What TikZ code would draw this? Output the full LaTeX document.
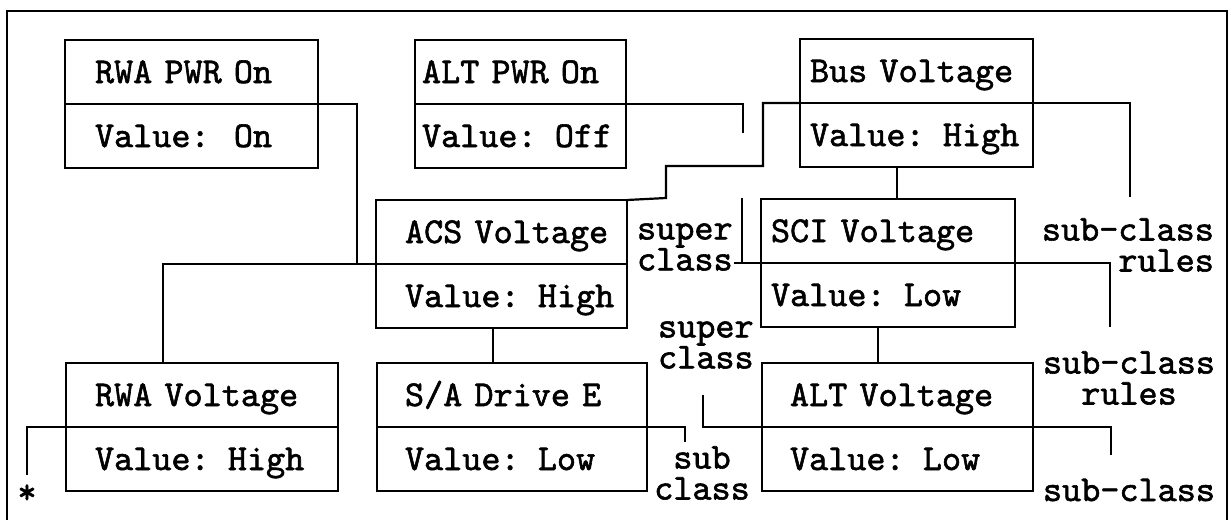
\documentclass[tikz,border=0pt]{standalone}
\usepackage{fontspec}
\newfontfamily\boxfont{lmmono10-regular}[Extension=.otf,FakeBold=1.6,WordSpace={1,0,0},PunctuationSpace=WordSpace]
\usetikzlibrary{positioning}

\begin{document}
\begin{tikzpicture}[x=0.5pt,y=-0.5pt,line width=1.1pt,
                    every node/.style={font=\boxfont\fontsize{18.2}{15.5}\selectfont},
                    cell/.style={draw,align=left,outer sep=0pt,minimum height=32pt,inner ysep=0pt,text height=11pt,text depth=0pt},
                    note/.style={inner sep=0pt}]
      \useasboundingbox (0,0) rectangle (1231,520);
      \draw (7,520) -- (7,11) -- (1227,11) -- (1227,520);

      % top row
      \node[cell, text width=96.5pt, inner xsep=15pt, anchor=south west] (rwapwr) at (65,104) {\mbox{RWA PWR On}};
      \node[cell, text width=96.5pt, inner xsep=15pt, below=0pt of rwapwr] (rwapwrv) {\mbox{Value:\ \ On}};
      \node[cell, text width=98.5pt, inner xsep=3.5pt, anchor=south west] (altpwr) at (415,104) {\mbox{ALT PWR On}};
      \node[cell, text width=98.5pt, inner xsep=3.5pt, below=0pt of altpwr] (altpwrv) {\mbox{Value: Off}};
      \node[cell, text width=106.5pt, inner xsep=5pt, anchor=south west] (bus) at (800,103) {\mbox{Bus Voltage}};
      \node[cell, text width=106.5pt, inner xsep=5pt, below=0pt of bus] (busv) {\mbox{Value: High}};

      % middle row
      \node[cell, text width=96.5pt, inner xsep=14.5pt, anchor=south west] (acs) at (376,264) {\mbox{ACS Voltage}};
      \node[cell, text width=96.5pt, inner xsep=14.5pt, below=0pt of acs] (acsv) {\mbox{Value: High}};
      \node[cell, text width=117pt, inner xsep=5pt, anchor=south west] (sci) at (761,263) {\mbox{SCI Voltage}};
      \node[cell, text width=117pt, inner xsep=5pt, below=0pt of sci] (sciv) {\mbox{Value: Low}};

      % bottom row
      \node[cell, text width=107pt, inner xsep=14.5pt, anchor=south west] (rwav) at (66,427) {\mbox{RWA Voltage}};
      \node[cell, text width=107pt, inner xsep=14.5pt, below=0pt of rwav] (rwavv) {\mbox{Value: High}};
      \node[cell, text width=107pt, inner xsep=14pt, anchor=south west] (sad) at (377,427) {\mbox{S/A Drive E}};
      \node[cell, text width=107pt, inner xsep=14pt, below=0pt of sad] (sadv) {\mbox{Value: Low}};
      \node[cell, text width=107.5pt, inner xsep=14pt, anchor=south west] (altv) at (762,427) {\mbox{ALT Voltage}};
      \node[cell, text width=107.5pt, inner xsep=14pt, below=0pt of altv] (altvv) {\mbox{Value: Low}};

      % side notes
      \node[note, anchor=west, align=left] (sup1) at (636,247) {super\\class};
      \node[note, anchor=east, align=right] (subr1) at (1215,245) {sub-class\\rules};
      \node[note, anchor=west, align=left] (sup2) at (657,345) {super\\class};
      \node[note, align=center] (sub1) at (702,473) {sub\\class};
      \node[note, align=center] (subr2) at (1129,378) {sub-class\\rules};
      \node[note] (sub2) at (1129,490) {sub-class};
      \node[note] (star) at (27,494) {*};

      \coordinate (rwajoin) at (357,264);
      \coordinate (altend) at (743,133);
      \coordinate (busend) at (1130,197);
      \coordinate (supstub) at (742,198);
      \coordinate (sciend) at (1110,327);
      \coordinate (sadend) at (685,442);
      \coordinate (altvstub) at (703,395);
      \coordinate (altvend) at (1111,455);
      \coordinate (rwavend) at (27,475);
      \coordinate (busdown) at ([xshift=-9.75pt]busv.south);
      \coordinate (acsdown) at ([xshift=-4.25pt]acsv.south);
      \coordinate (scidown) at ([xshift=-5pt]sciv.south);

      \draw (rwapwrv.north east) -| (rwajoin);
      \draw (acsv.north west) -| ([xshift=48.5pt]rwav.north west);
      \draw (altpwrv.north east) -| (altend);
      \draw (busv.north west) -| (763,166) -| (666,198) -- (acs.north east);
      \draw (busv.north east) -| (busend);
      \draw (busdown) -- (busdown |- sci.north);
      \draw (sup1.east |- sciv.north west) -- (sciv.north west);
      \draw (supstub) |- (sciv.north west);
      \draw (sciv.north east) -| (sciend);
      \draw (acsdown) -- (acsdown |- sad.north);
      \draw (scidown) -- (scidown |- altv.north);
      \draw (sadv.north east) -| (sadend);
      \draw (altvv.north west) -| (altvstub);
      \draw (altvv.north east) -| (altvend);
      \draw (rwavv.north west) -| (rwavend);

\end{tikzpicture}
\end{document}
